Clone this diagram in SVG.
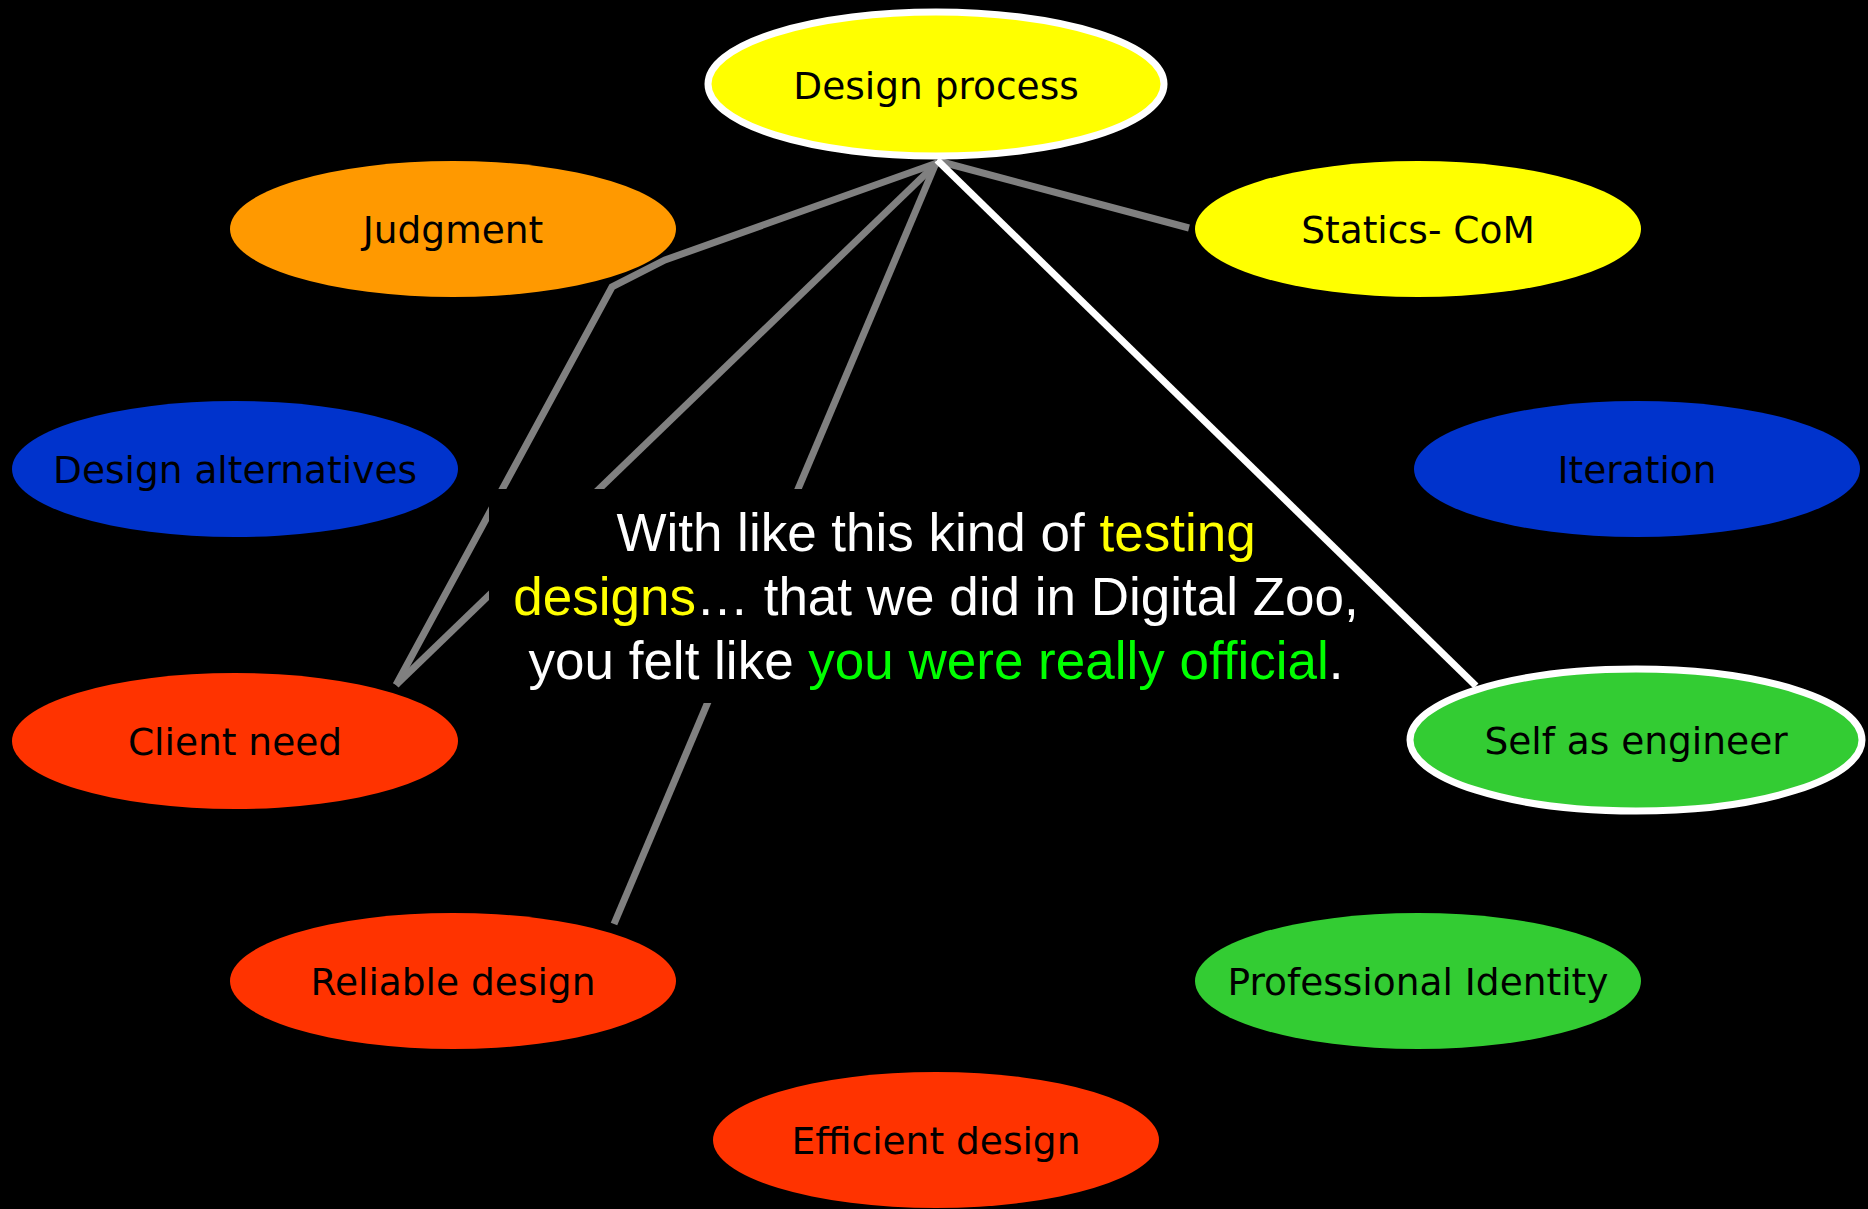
<svg xmlns="http://www.w3.org/2000/svg" width="1868" height="1209" viewBox="0 0 1868 1209">
<style>
.node text{font-family:"DejaVu Sans","Liberation Sans",sans-serif;font-size:37.5px;fill:#000;text-anchor:middle}
.gray{stroke:#808080;stroke-width:7;fill:none;stroke-linejoin:miter}
.white{stroke:#fff;stroke-width:7;fill:none}
.ring{stroke:#fff;stroke-width:7}
.quote{font-family:"Liberation Sans",Arial,sans-serif;font-size:53px;fill:#fff;text-anchor:middle}
.y{fill:#FFFF00}.g{fill:#00FF00}
</style>
<rect x="0" y="0" width="1868" height="1209" fill="#000"/>
<g id="connectors">
<polyline class="gray" points="937,163 665,260 612,287 396,685"/>
<line class="gray" x1="937" y1="163" x2="396" y2="685"/>
<line class="gray" x1="936" y1="163" x2="614" y2="924"/>
<line class="gray" x1="938" y1="161" x2="1189" y2="228"/>
</g>
<g id="quote">
<rect x="489" y="489" width="894" height="214" fill="#000"/>
<text class="quote" x="936" y="551">With like this kind of <tspan class="y">testing</tspan></text>
<text class="quote" x="936" y="615"><tspan class="y">designs</tspan>… that we did in Digital Zoo,</text>
<text class="quote" x="936" y="679">you felt like <tspan class="g">you were really official</tspan>.</text>
</g>
<g id="connector-self">
<line class="white" x1="937" y1="160" x2="1476" y2="686"/>
</g>
<g id="design-process" class="node">
<ellipse class="ring" cx="936" cy="84" rx="228" ry="72" fill="#FFFF00"/>
<text x="936" y="99">Design process</text>
</g>
<g id="judgment" class="node">
<ellipse cx="453" cy="229" rx="223" ry="68" fill="#FF9900"/>
<text x="453" y="243">Judgment</text>
</g>
<g id="statics-com" class="node">
<ellipse cx="1418" cy="229" rx="223" ry="68" fill="#FFFF00"/>
<text x="1418" y="243">Statics- CoM</text>
</g>
<g id="design-alternatives" class="node">
<ellipse cx="235" cy="469" rx="223" ry="68" fill="#0033CC"/>
<text x="235" y="483">Design alternatives</text>
</g>
<g id="iteration" class="node">
<ellipse cx="1637" cy="469" rx="223" ry="68" fill="#0033CC"/>
<text x="1637" y="483">Iteration</text>
</g>
<g id="client-need" class="node">
<ellipse cx="235" cy="741" rx="223" ry="68" fill="#FF3300"/>
<text x="235" y="755">Client need</text>
</g>
<g id="self-as-engineer" class="node">
<ellipse class="ring" cx="1636" cy="740" rx="226" ry="71" fill="#33CC33"/>
<text x="1636" y="754">Self as engineer</text>
</g>
<g id="reliable-design" class="node">
<ellipse cx="453" cy="981" rx="223" ry="68" fill="#FF3300"/>
<text x="453" y="995">Reliable design</text>
</g>
<g id="professional-identity" class="node">
<ellipse cx="1418" cy="981" rx="223" ry="68" fill="#33CC33"/>
<text x="1418" y="995">Professional Identity</text>
</g>
<g id="efficient-design" class="node">
<ellipse cx="936" cy="1140" rx="223" ry="68" fill="#FF3300"/>
<text x="936" y="1154">Efficient design</text>
</g>
</svg>
